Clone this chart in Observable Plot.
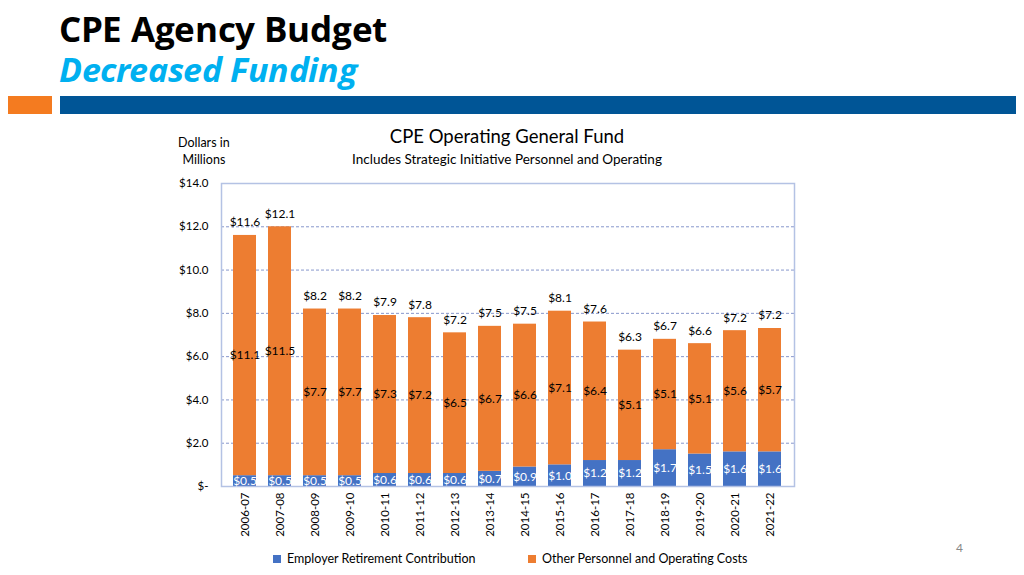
<!DOCTYPE html>
<html>
<head>
<meta charset="utf-8">
<script src="https://cdn.jsdelivr.net/npm/d3@7"></script>
<script src="https://cdn.jsdelivr.net/npm/@observablehq/plot@0.6"></script>
<style>
  @font-face { font-family: "TitleSans"; font-weight: 700; font-style: normal;
    src: local("Open Sans Bold"), local("OpenSans-Bold");
    ascent-override: 100%; descent-override: 10%; line-gap-override: 0%; }
  @font-face { font-family: "TitleSans"; font-weight: 700; font-style: italic;
    src: local("Open Sans Bold Italic"), local("OpenSans-BoldItalic");
    ascent-override: 100%; descent-override: 10%; line-gap-override: 0%; }
  html, body { margin: 0; padding: 0; background: #fff; }
  #page { position: relative; width: 1024px; height: 575px; overflow: hidden; font-family: Lato, "Open Sans", sans-serif; }
  .abs { position: absolute; white-space: nowrap; }
  #t1 { left: 59px; top: 8px; height: 38px; line-height: 38px; font-family: "TitleSans", "Open Sans", sans-serif; font-weight: 700; font-size: 35px; color: #000; letter-spacing: -0.3px; }
  #t2 { left: 59px; top: 48px; height: 38px; line-height: 38px; font-family: "TitleSans", "Open Sans", sans-serif; font-weight: 700; font-style: italic; font-size: 33.6px; color: #00b0f0; letter-spacing: -0.4px; }
  #sq { left: 8px; top: 96px; width: 44px; height: 18px; background: #f47b20; }
  #band { left: 60px; top: 96px; width: 956px; height: 18px; background: #005596; }
  #ct { left: 0; width: 1014px; top: 125px; text-align: center; font-size: 18.5px; color: #000; }
  #cs { left: 0; width: 1014px; top: 151px; text-align: center; font-size: 13.5px; color: #000; }
  #unit { left: 178px; top: 134px; font-size: 12.5px; line-height: 17px; text-align: center; color: #000; }
  #chart { left: 150px; top: 170px; }
  #legend { left: 273px; top: 551px; font-size: 12.5px; color: #000; }
  .li { position: absolute; top: 0; white-space: nowrap; }
  .sw { display: inline-block; width: 8px; height: 8px; margin-right: 6px; vertical-align: 0px; }
  #pg { left: 956px; top: 540px; font-size: 12px; color: #888; }
</style>
</head>
<body>
<div id="page">
  <div id="t1" class="abs">CPE Agency Budget</div>
  <div id="t2" class="abs">Decreased Funding</div>
  <div id="sq" class="abs"></div>
  <div id="band" class="abs"></div>
  <div id="ct" class="abs">CPE Operating General Fund</div>
  <div id="cs" class="abs">Includes Strategic Initiative Personnel and Operating</div>
  <div id="unit" class="abs">Dollars in<br>Millions</div>
  <div id="chart" class="abs"></div>
  <div id="legend" class="abs">
    <span class="li" style="left:0"><span class="sw" style="background:#4472c4"></span>Employer Retirement Contribution</span>
    <span class="li" style="left:255px"><span class="sw" style="background:#ed7d31"></span>Other Personnel and Operating Costs</span>
  </div>
  <div id="pg" class="abs">4</div>
</div>
<script>
const years = ["2006-07","2007-08","2008-09","2009-10","2010-11","2011-12","2012-13","2013-14","2014-15","2015-16","2016-17","2017-18","2018-19","2019-20","2020-21","2021-22"];
const retirement = [0.5,0.5,0.5,0.5,0.6,0.6,0.6,0.7,0.9,1.0,1.2,1.2,1.7,1.5,1.6,1.6];
const other = [11.1,11.5,7.7,7.7,7.3,7.2,6.5,6.7,6.6,7.1,6.4,5.1,5.1,5.1,5.6,5.7];
const totals = [11.6,12.1,8.2,8.2,7.9,7.8,7.2,7.5,7.5,8.1,7.6,6.3,6.7,6.6,7.2,7.2];
const yTicks = [0,2,4,6,8,10,12,14];
const seriesNames = ["Employer Retirement Contribution","Other Personnel and Operating Costs"];

const rows = [];
years.forEach((y, i) => {
  rows.push({year: y, series: seriesNames[0], value: retirement[i], lo: 0, hi: retirement[i]});
  rows.push({year: y, series: seriesNames[1], value: other[i], lo: retirement[i], hi: retirement[i] + other[i]});
});
const totalRows = years.map((y, i) => ({year: y, total: totals[i], top: retirement[i] + other[i]}));
const fmt = v => "$" + v.toFixed(1);

const chart = Plot.plot({
  width: 700,
  height: 380,
  marginLeft: 71,
  marginRight: 56,
  marginTop: 13,
  marginBottom: 64,
  style: {fontFamily: "Lato, 'Open Sans', sans-serif", fontSize: "11.5px", color: "#000", background: "transparent"},
  x: {domain: years, padding: 0.34, label: null, tickSize: 0, tickRotate: -90, tickPadding: 6},
  y: {domain: [0, 14], ticks: yTicks, label: null, tickSize: 0, tickPadding: 13,
      tickFormat: d => d === 0 ? "$-" : "$" + d.toFixed(1)},
  color: {domain: seriesNames, range: ["#4472c4", "#ed7d31"]},
  marks: [
    Plot.gridY(yTicks.filter(d => d > 0 && d < 14), {stroke: "#8797cc", strokeOpacity: 1, strokeDasharray: "3,2", strokeWidth: 1}),
    Plot.barY(rows, {x: "year", y1: "lo", y2: "hi", fill: "series"}),
    Plot.frame({stroke: "#b4c2e4", strokeWidth: 1.5}),
    Plot.text(rows.filter(d => d.series === seriesNames[0]), {x: "year", y: d => (d.lo + d.hi) / 2, text: d => fmt(d.value), fill: "white", fontSize: 12}),
    Plot.text(rows.filter(d => d.series === seriesNames[1]), {x: "year", y: d => (d.lo + d.hi) / 2, text: d => fmt(d.value), fill: "#000", fontSize: 12}),
    Plot.text(totalRows, {x: "year", y: "top", text: d => fmt(d.total), dy: -13, fill: "#000", fontSize: 12})
  ]
});
document.getElementById("chart").appendChild(chart);
</script>
</body>
</html>
